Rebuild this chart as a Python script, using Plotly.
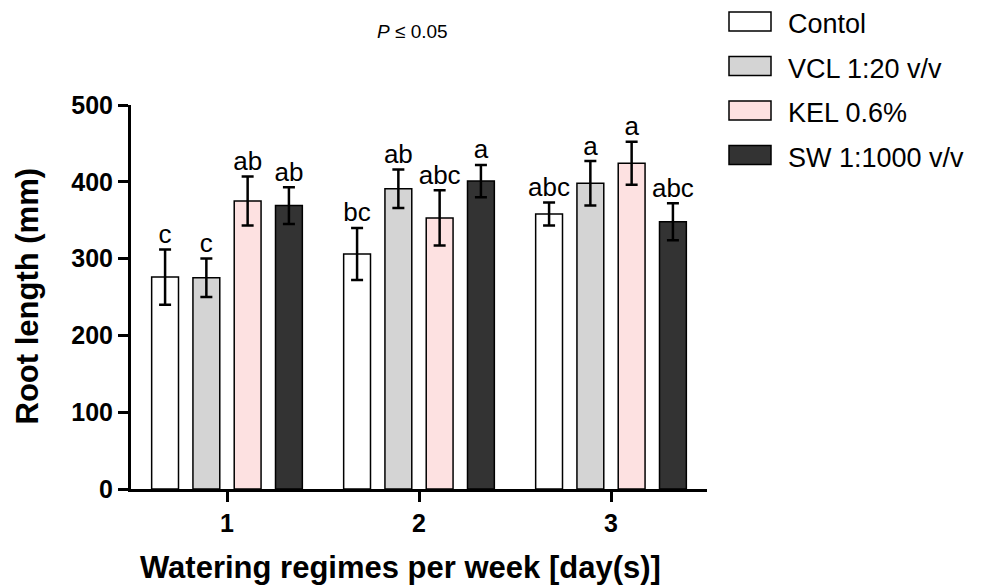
import plotly.graph_objects as go

# ---- data ----
regimes = [1, 2, 3]
tick_labels = ["1", "2", "3"]
series_names = ["Contol", "VCL 1:20 v/v", "KEL 0.6%", "SW 1:1000 v/v"]
control = [276, 306, 358]
vcl = [275, 391, 398]
kel = [375, 353, 424]
sw = [369, 401, 348]
control_err = [36, 34, 15]
vcl_err = [25, 25, 29]
kel_err = [32, 36, 28]
sw_err = [24, 21, 24]
control_letters = ["c", "bc", "abc"]
vcl_letters = ["c", "ab", "a"]
kel_letters = ["ab", "abc", "a"]
sw_letters = ["ab", "a", "abc"]
x_title = "Watering regimes per week [day(s)]"
y_title = "Root length (mm)"

colors = ["#FFFFFF", "#D4D4D4", "#FDE1E1", "#333333"]
values = [control, vcl, kel, sw]
errors = [control_err, vcl_err, kel_err, sw_err]
letters = [control_letters, vcl_letters, kel_letters, sw_letters]

# page has an 8px body margin; figure sized to fill the rest of the window
OFF = 8
W, H = 1008 - OFF, 588 - OFF
L, R, T, B = 131 - OFF, 301, 105 - OFF, 99
pw, ph = W - L - R, H - T - B

def px(x):
    return (x - OFF - L) / pw

def py(y):
    return (H - B - (y - OFF)) / ph

fig = go.Figure()
for i, name in enumerate(series_names):
    fig.add_trace(go.Bar(
        x=regimes, y=values[i], name=name,
        marker=dict(color=colors[i], line=dict(color="black", width=1.5)),
        error_y=dict(type="data", array=errors[i], color="black",
                     thickness=2.5, width=6),
        showlegend=False,
    ))
for i, name in enumerate(series_names):
    tops = [v + e for v, e in zip(values[i], errors[i])]
    fig.add_trace(go.Scatter(
        x=regimes, y=tops, mode="text", text=letters[i],
        textposition="top center",
        textfont=dict(family="Arial", size=26, color="black"),
        showlegend=False, hoverinfo="skip",
    ))

# legend drawn as boxes + labels
for i, name in enumerate(series_names):
    cy = 21.5 + i * 44.5
    fig.add_shape(type="rect", xref="paper", yref="paper",
                  x0=px(729), x1=px(771), y0=py(cy + 9.5), y1=py(cy - 9.5),
                  fillcolor=colors[i], line=dict(color="black", width=1.5))
    fig.add_annotation(xref="paper", yref="paper", x=px(786), y=py(cy + 2.5),
                       text=name, showarrow=False, xanchor="left",
                       yanchor="middle",
                       font=dict(family="Arial", size=27, color="black"))

fig.add_annotation(xref="paper", yref="paper", x=px(412), y=py(32),
                   text="<i>P</i> ≤ 0.05", showarrow=False,
                   xanchor="center", yanchor="middle",
                   font=dict(family="Arial", size=19, color="black"))

# axis titles
fig.add_annotation(xref="paper", yref="paper", x=px(400.5), y=py(567.5),
                   text=x_title, showarrow=False,
                   xanchor="center", yanchor="middle",
                   font=dict(family="Arial", size=31, color="black", weight="bold"))
fig.add_annotation(xref="paper", yref="paper", x=px(27), y=py(296.5),
                   text=y_title, showarrow=False, textangle=-90,
                   xanchor="center", yanchor="middle",
                   font=dict(family="Arial", size=31, color="black", weight="bold"))

fig.update_layout(
    width=W, height=H,
    margin=dict(l=L, r=R, t=T, b=B, autoexpand=False),
    paper_bgcolor="white", plot_bgcolor="white",
    barmode="group", bargap=0.14, bargroupgap=0.35,
    scattermode="group", scattergap=0.14,
    font=dict(family="Arial", color="black"),
)
fig.update_xaxes(
    range=[0.5, 3.5], tickvals=regimes, ticktext=tick_labels,
    showline=True, linecolor="black", linewidth=3,
    ticks="outside", ticklen=10, tickwidth=3, tickcolor="black",
    showgrid=False, zeroline=False,
    tickfont=dict(family="Arial", size=25, weight="bold"),
)
fig.update_yaxes(
    range=[0, 500], tickvals=[0, 100, 200, 300, 400, 500],
    showline=True, linecolor="black", linewidth=3,
    ticks="outside", ticklen=10, tickwidth=3, tickcolor="black",
    showgrid=False, zeroline=False,
    tickfont=dict(family="Arial", size=25, weight="bold"),
)

fig.write_html("out.html")
